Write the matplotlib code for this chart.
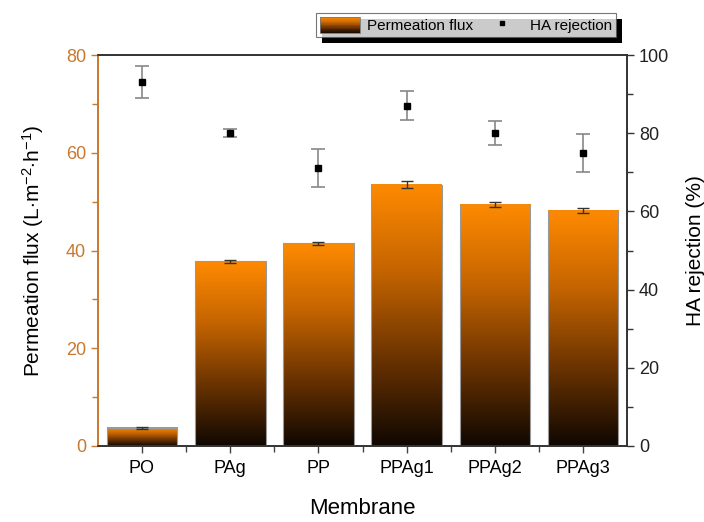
import numpy as np
import matplotlib
matplotlib.use('Agg')
import matplotlib.pyplot as plt
from matplotlib.colors import LinearSegmentedColormap
from matplotlib.patches import Rectangle
from matplotlib.legend_handler import HandlerBase

plt.rcParams['font.family'] = ['Liberation Sans', 'DejaVu Sans']
plt.rcParams['mathtext.fontset'] = 'custom'
plt.rcParams['mathtext.rm'] = 'Liberation Sans'
plt.rcParams['mathtext.it'] = 'Liberation Sans:italic'

membranes = ['PO', 'PAg', 'PP', 'PPAg1', 'PPAg2', 'PPAg3']
flux = [3.7, 37.8, 41.5, 53.5, 49.4, 48.1]
flux_err = [0.15, 0.3, 0.3, 0.75, 0.45, 0.5]
rejection = [93.1, 80.1, 71.1, 87.0, 80.0, 75.0]
rejection_err = [4.2, 1.0, 4.9, 3.7, 3.0, 4.8]

orange_axis = '#C8782F'
cmap = LinearSegmentedColormap.from_list('fluxgrad', ['#0f0702', '#6b3300', '#c46400', '#ff8a00'])
grad = np.linspace(0, 1, 256).reshape(-1, 1)

fig = plt.figure(figsize=(7.04, 5.22), dpi=100)
ax1 = fig.add_axes([0.139, 0.1456, 0.752, 0.749])
ax2 = ax1.twinx()

x = np.arange(len(membranes))
width = 0.8

# gradient bars: orange at top to black at bottom
for xi, h in zip(x, flux):
    ax1.imshow(grad, extent=[xi - width / 2, xi + width / 2, 0, h], origin='lower',
               cmap=cmap, aspect='auto', zorder=2, interpolation='bilinear')
    ax1.add_patch(Rectangle((xi - width / 2, 0), width, h, fill=False,
                            edgecolor='#9a9a9a', linewidth=0.8, zorder=3))
ax1.errorbar(x, flux, yerr=flux_err, fmt='none', ecolor='#333333',
             elinewidth=1, capsize=4, capthick=1, zorder=4)

ax1.set_xlim(-0.5, 5.5)
ax1.set_ylim(0, 80)
ax2.set_ylim(0, 100)

ax2.errorbar(x, rejection, yerr=rejection_err, fmt='s', color='black', markersize=4,
             ecolor='#888888', elinewidth=1.2, capsize=5, capthick=1.2, zorder=5)

ax1.set_xticks(x)
ax1.set_xticklabels(membranes)
ax1.set_xticks(x[:-1] + 0.5, minor=True)
ax1.set_yticks([0, 20, 40, 60, 80])
ax1.set_yticks([10, 30, 50, 70], minor=True)
ax2.set_yticks([0, 20, 40, 60, 80, 100])
ax2.set_yticks([10, 30, 50, 70, 90], minor=True)

ax1.tick_params(axis='x', labelsize=13, length=5, width=1, color='#444444', pad=5)
ax1.tick_params(axis='x', which='minor', length=4, width=1, color='#444444')
ax1.tick_params(axis='y', labelsize=13, length=5, width=1, colors=orange_axis)
ax1.tick_params(axis='y', which='minor', length=4, width=1, color=orange_axis)
ax2.tick_params(axis='y', labelsize=13, length=5, width=1, color='#333333', labelcolor='#222222')
ax2.tick_params(axis='y', which='minor', length=4, width=1, color='#333333')

for a in (ax1, ax2):
    a.spines['left'].set_color(orange_axis)
    a.spines['left'].set_linewidth(1.2)
    for s in ('right', 'top', 'bottom'):
        a.spines[s].set_color('#333333')
        a.spines[s].set_linewidth(1.2)

ax1.set_xlabel('Membrane', fontsize=16, labelpad=15)
ax1.set_ylabel('Permeation flux (L$\\cdot$m$^{-2}$$\\cdot$h$^{-1}$)', fontsize=15, labelpad=14)
ax2.set_ylabel('HA rejection (%)', fontsize=15, labelpad=12)


class GradientHandler(HandlerBase):
    def create_artists(self, legend, orig_handle, xdescent, ydescent, width, height, fontsize, trans):
        artists = []
        n = 20
        for i in range(n):
            c = cmap(1 - i / n)
            r = Rectangle((0, -ydescent + height * (1 - (i + 1) / n)), width, height / n,
                          facecolor=c, edgecolor='none', transform=trans)
            artists.append(r)
        border = Rectangle((0, -ydescent), width, height, fill=False, edgecolor='#777777',
                           linewidth=0.6, transform=trans)
        artists.append(border)
        return artists


flux_handle = Rectangle((0, 0), 1, 1)
rej_handle = plt.Line2D([], [], marker='s', color='black', linestyle='none', markersize=3.5)
leg = fig.legend([flux_handle, rej_handle], ['Permeation flux', 'HA rejection'],
                 handler_map={Rectangle: GradientHandler()}, ncol=2,
                 loc='upper left', bbox_to_anchor=(0.449, 0.975), borderaxespad=0,
                 fontsize=11, frameon=True, fancybox=False, edgecolor='#555555',
                 handlelength=2.6, handleheight=1.2,
                 columnspacing=0.6, borderpad=0.25, handletextpad=0.5)
leg.get_frame().set_linewidth(0.8)
leg.set_zorder(10)

# hard black drop shadow behind the legend box
fig.canvas.draw()
bb = leg.get_frame().get_window_extent().transformed(fig.transFigure.inverted())
dx, dy = 6 / 704, 6 / 522
fig.patches.append(Rectangle((bb.x0 + dx, bb.y0 - dy), bb.width, bb.height,
                             transform=fig.transFigure, facecolor='black',
                             edgecolor='none', zorder=9))

fig.savefig('out.png', dpi=100)
